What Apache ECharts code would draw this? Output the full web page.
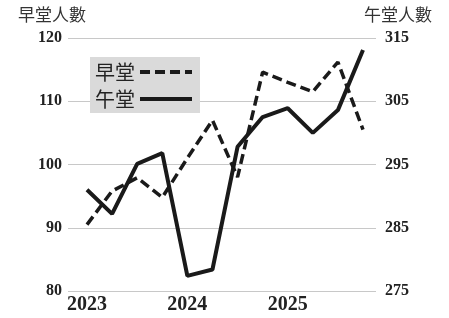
<!DOCTYPE html>
<html>
<head>
<meta charset="utf-8">
<script src="https://cdn.jsdelivr.net/npm/echarts@6/dist/echarts.min.js"></script>
<style>
html, body { margin: 0; padding: 0; background: #ffffff; }
#chart { width: 449px; height: 318px; }
</style>
</head>
<body>
<div id="chart"></div>
<script>
// 每季一個點, 2023 Q1 - 2025 Q4
var quarters = [0, 1, 2, 3, 4, 5, 6, 7, 8, 9, 10, 11];
var yearTicks = [0, 4, 8];
var yearLabels = { 0: '2023', 4: '2024', 8: '2025' };

var morning = [90.5, 95.8, 97.9, 94.8, 101, 107, 98, 114.6, 113, 111.5, 116.2, 105.5];   // 早堂
var noon = [291, 287.2, 295.1, 296.8, 277.4, 278.4, 297.8, 302.5, 303.9, 300, 303.6, 313.1]; // 午堂

var serif = 'Liberation Serif';
var cjk = 'Noto Sans CJK TC';

function pairs(vals) {
    return quarters.map(function (q, i) { return [q, vals[i]]; });
}

var myChart = echarts.init(document.getElementById('chart'));

var option = {
    animation: false,
    backgroundColor: '#ffffff',
    grid: { left: 68, right: 73, top: 38, bottom: 27 },
    legend: {
        orient: 'vertical',
        left: 90,
        top: 57,
        align: 'right',
        backgroundColor: '#dadada',
        padding: [5, 6, 4, 5],
        itemGap: 7,
        itemWidth: 52,
        itemHeight: 14,
        itemStyle: { opacity: 0 },
        lineStyle: { width: 4 },
        textStyle: { fontFamily: cjk, fontSize: 20, color: '#222' },
        data: ['早堂', '午堂']
    },
    graphic: [
        { type: 'text', left: 18, top: 6, style: { text: '早堂人數', font: '17px "Noto Sans CJK TC"', fill: '#333' } },
        { type: 'text', left: 364, top: 6, style: { text: '午堂人數', font: '17px "Noto Sans CJK TC"', fill: '#333' } }
    ],
    xAxis: {
        type: 'value',
        min: -0.757,
        max: 11.518,
        axisLine: { show: false },
        axisTick: { show: false },
        splitLine: { show: false },
        axisLabel: {
            customValues: yearTicks,
            margin: 4,
            fontFamily: serif,
            fontWeight: 'bold',
            fontSize: 20,
            color: '#222',
            formatter: function (v) { return yearLabels[v] || ''; }
        }
    },
    yAxis: [
        {
            type: 'value',
            min: 80,
            max: 120,
            interval: 10,
            axisLine: { show: false },
            axisTick: { show: false },
            splitLine: { lineStyle: { color: '#c8c8c8', width: 1 } },
            axisLabel: {
                margin: 6,
                fontFamily: serif,
                fontWeight: 'bold',
                fontSize: 16,
                color: '#222'
            }
        },
        {
            type: 'value',
            min: 275,
            max: 315,
            interval: 5,
            position: 'right',
            axisLine: { show: false },
            axisTick: { show: false },
            splitLine: { show: false },
            axisLabel: {
                margin: 9,
                fontFamily: serif,
                fontWeight: 'bold',
                fontSize: 16,
                color: '#222',
                formatter: function (v) { return v % 10 === 5 ? v : ''; }
            }
        }
    ],
    series: [
        {
            name: '早堂',
            type: 'line',
            yAxisIndex: 0,
            symbol: 'none',
            data: pairs(morning),
            lineStyle: { color: '#1a1a1a', width: 3.5, type: [10, 5] },
            itemStyle: { color: '#1a1a1a' },
            z: 3
        },
        {
            name: '午堂',
            type: 'line',
            yAxisIndex: 1,
            symbol: 'none',
            data: pairs(noon),
            lineStyle: { color: '#1a1a1a', width: 4 },
            itemStyle: { color: '#1a1a1a' },
            z: 2
        }
    ]
};

myChart.setOption(option);
</script>
</body>
</html>
